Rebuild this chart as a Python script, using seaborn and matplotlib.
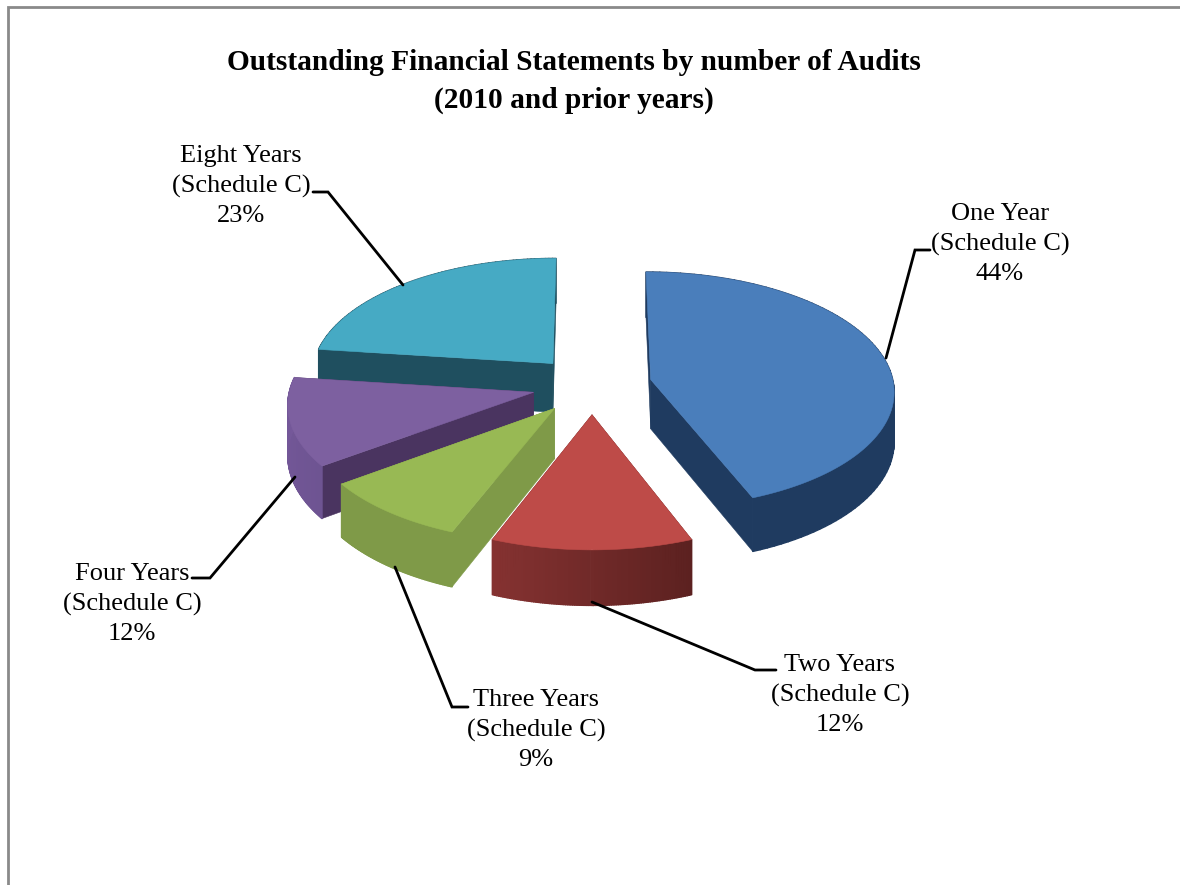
import numpy as np
import matplotlib
matplotlib.use("Agg")
import matplotlib.pyplot as plt
from matplotlib.collections import PolyCollection
from matplotlib.patches import Polygon
import seaborn as sns

# Chart content
title_lines = ["Outstanding Financial Statements by number of Audits", "(2010 and prior years)"]
categories = ["One Year", "Two Years", "Three Years", "Four Years", "Eight Years"]
schedule = "(Schedule C)"
shares = [44, 12, 9, 12, 23]

# Slice colours: top face, wall at slice start, wall at slice end, cut face
top_colors = ["#4A7EBB", "#BE4B48", "#98B954", "#7D60A0", "#46AAC4"]
wall_start = ["#1F3B60", "#5C2120", "#7F9A48", "#6E5492", "#1F4F5F"]
wall_end = ["#1F3B60", "#853231", "#7F9A48", "#75589A", "#1F4F5F"]
cut_colors = ["#1F3B60", "#5C2120", "#7F9A48", "#4A3460", "#1F4F5F"]

# Layout in pixels
label_centers = [(1000, 244), (840, 695), (536, 730), (132, 604), (241, 186)]
leader_paths = [
    [(886, 358), (915, 250), (930, 250)],
    [(592, 602), (755, 670), (776, 670)],
    [(395, 567), (452, 707), (468, 707)],
    [(295, 477), (210, 578), (192, 578)],
    [(403, 285), (328, 192), (313, 192)],
]
paint_order = [4, 0, 3, 2, 1]

center_x, center_y = 592.0, 385.0
radius = 243.0
explode = 60.0
tilt = 0.485
perspective = 0.0872
thickness = 49.5

sns.set_theme(style="white")
plt.rcParams["font.family"] = ["Liberation Serif", "DejaVu Serif"]


def project(wx, wy, depth=0.0):
    """Map pie-plane coordinates (wy towards the viewer) and a drop below the plane to pixels."""
    scale = 1.0 / (1.0 - perspective * np.asarray(wy) / radius)
    return np.column_stack([center_x + np.asarray(wx) * scale,
                            center_y + (tilt * np.asarray(wy) + depth) * scale])


fig = plt.figure(figsize=(11.8, 8.85), dpi=100, facecolor="white")
ax = fig.add_axes([0, 0, 1, 1])
ax.set_xlim(0, 1180)
ax.set_ylim(885, 0)
ax.axis("off")

# Clockwise sweep starting from twelve o'clock
edges = np.deg2rad(np.concatenate([[0], np.cumsum(shares)]) * 3.6)

layer = 1
for idx in paint_order:
    a0, a1 = edges[idx], edges[idx + 1]
    mid = (a0 + a1) / 2
    apex_x, apex_y = explode * np.sin(mid), -explode * np.cos(mid)
    theta = np.linspace(a0, a1, 90)
    rim_x = apex_x + radius * np.sin(theta)
    rim_y = apex_y - radius * np.cos(theta)

    # Cut faces, the one whose outer corner sits further back goes first
    faces = []
    for k in (0, -1):
        wx = np.array([apex_x, rim_x[k]])
        wy = np.array([apex_y, rim_y[k]])
        upper = project(wx, wy)
        lower = project(wx, wy, thickness)
        faces.append((upper[1, 1], np.vstack([upper, lower[::-1]])))
    for _, verts in sorted(faces, key=lambda f: f[0]):
        ax.add_patch(Polygon(verts, closed=True, facecolor=cut_colors[idx],
                             edgecolor=cut_colors[idx], linewidth=0.4, zorder=layer))
        layer += 1

    # Outer wall shaded in narrow strips along the rim
    upper = project(rim_x, rim_y)
    lower = project(rim_x, rim_y, thickness)
    quads = [np.vstack([upper[i], upper[i + 1], lower[i + 1], lower[i]]) for i in range(len(theta) - 1)]
    shades = sns.blend_palette([wall_start[idx], wall_end[idx]], len(quads))
    wall = PolyCollection(quads, facecolors=shades, edgecolors=shades, linewidths=1.0, zorder=layer)
    ax.add_collection(wall)
    layer += 1

    # Top face
    outline = project(np.r_[apex_x, rim_x], np.r_[apex_y, rim_y])
    ax.add_patch(Polygon(outline, closed=True, facecolor=top_colors[idx],
                         edgecolor=top_colors[idx], linewidth=0.4, zorder=layer))
    layer += 1

# Leader lines and labels
for name, share, (lx, ly), path in zip(categories, shares, label_centers, leader_paths):
    xs, ys = zip(*path)
    ax.plot(xs, ys, color="black", lw=2.0, solid_joinstyle="miter", zorder=layer)
    ax.text(lx, ly, f"{name}\n{schedule}\n{share}%", ha="center", va="center",
            fontsize=19.0, color="black", linespacing=1.45, zorder=layer + 1)

# Title
for line, y in zip(title_lines, (63, 100)):
    ax.text(574, y, line, ha="center", va="center", fontsize=21.2, fontweight="bold",
            color="black", zorder=layer + 1)

# Frame running along the top and left only
ax.plot([8, 8, 1180], [885, 7, 7], color="#8A8A8A", lw=2.0, solid_joinstyle="miter", zorder=layer + 2)

fig.savefig("out.png", dpi=100, facecolor="white")
